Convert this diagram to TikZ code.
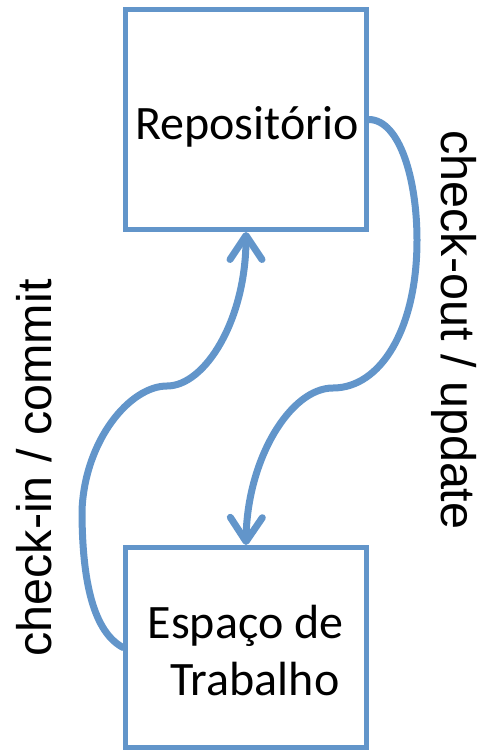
\documentclass[tikz,border=0pt]{standalone}
\usepackage{fontspec}
\setmainfont{Carlito}
\newfontfamily\arialfont{Liberation Sans}
\usetikzlibrary{arrows.meta}
\definecolor{boxblue}{RGB}{98,149,202}
\tikzset{
  boxnode/.style={draw=boxblue, line width=5pt, rectangle, inner sep=0pt, fill=white},
  boxtext/.style={inner sep=0pt, anchor=base, font=\fontsize{48}{57}\selectfont},
  sidelabel/.style={inner sep=0pt},
  flow/.style={draw=boxblue, line width=7pt, line cap=round,
    -{Straight Barb[length=24pt, width=32pt, round]}},
}
\newcommand{\sidefont}{\arialfont\fontsize{48.5}{58}\selectfont}
\begin{document}
\begin{tikzpicture}[x=1pt, y=-1pt]
\useasboundingbox (0,0) rectangle (482,751);
\node[boxnode, minimum width=241pt, minimum height=220pt] (repo) at (246,119.5) {};
\node[boxnode, minimum width=241pt, minimum height=200pt] (work) at (246,647.5) {};
\node[boxtext] (repotext) at (247,140) {Repositório};
\node[boxtext] (worktext1) at (245.5,638) {Espaço de};
\node[boxtext] (worktext2) at (255,695) {Trabalho};
\node[sidelabel, rotate=-90] (outlabel) at (454,330) {\sidefont check-out / update};
\node[sidelabel, rotate=90] (inlabel) at (34,468) {\sidefont check-in / commit};
\coordinate (r1) at (417,240);
\coordinate (r2) at (333,388);
\coordinate (l1) at (82,510);
\coordinate (l2) at (167,386);
\draw[flow] (repo.east) .. controls (400,120) and (417,180) .. (r1)
  .. controls (417,330) and (380,388) .. (r2)
  .. controls (290,388) and (247,460) .. (work.north);
\draw[flow] (work.west) .. controls (90,630) and (82,570) .. (l1)
  .. controls (85,440) and (130,386) .. (l2)
  .. controls (205,386) and (246,320) .. (repo.south);
\end{tikzpicture}
\end{document}
